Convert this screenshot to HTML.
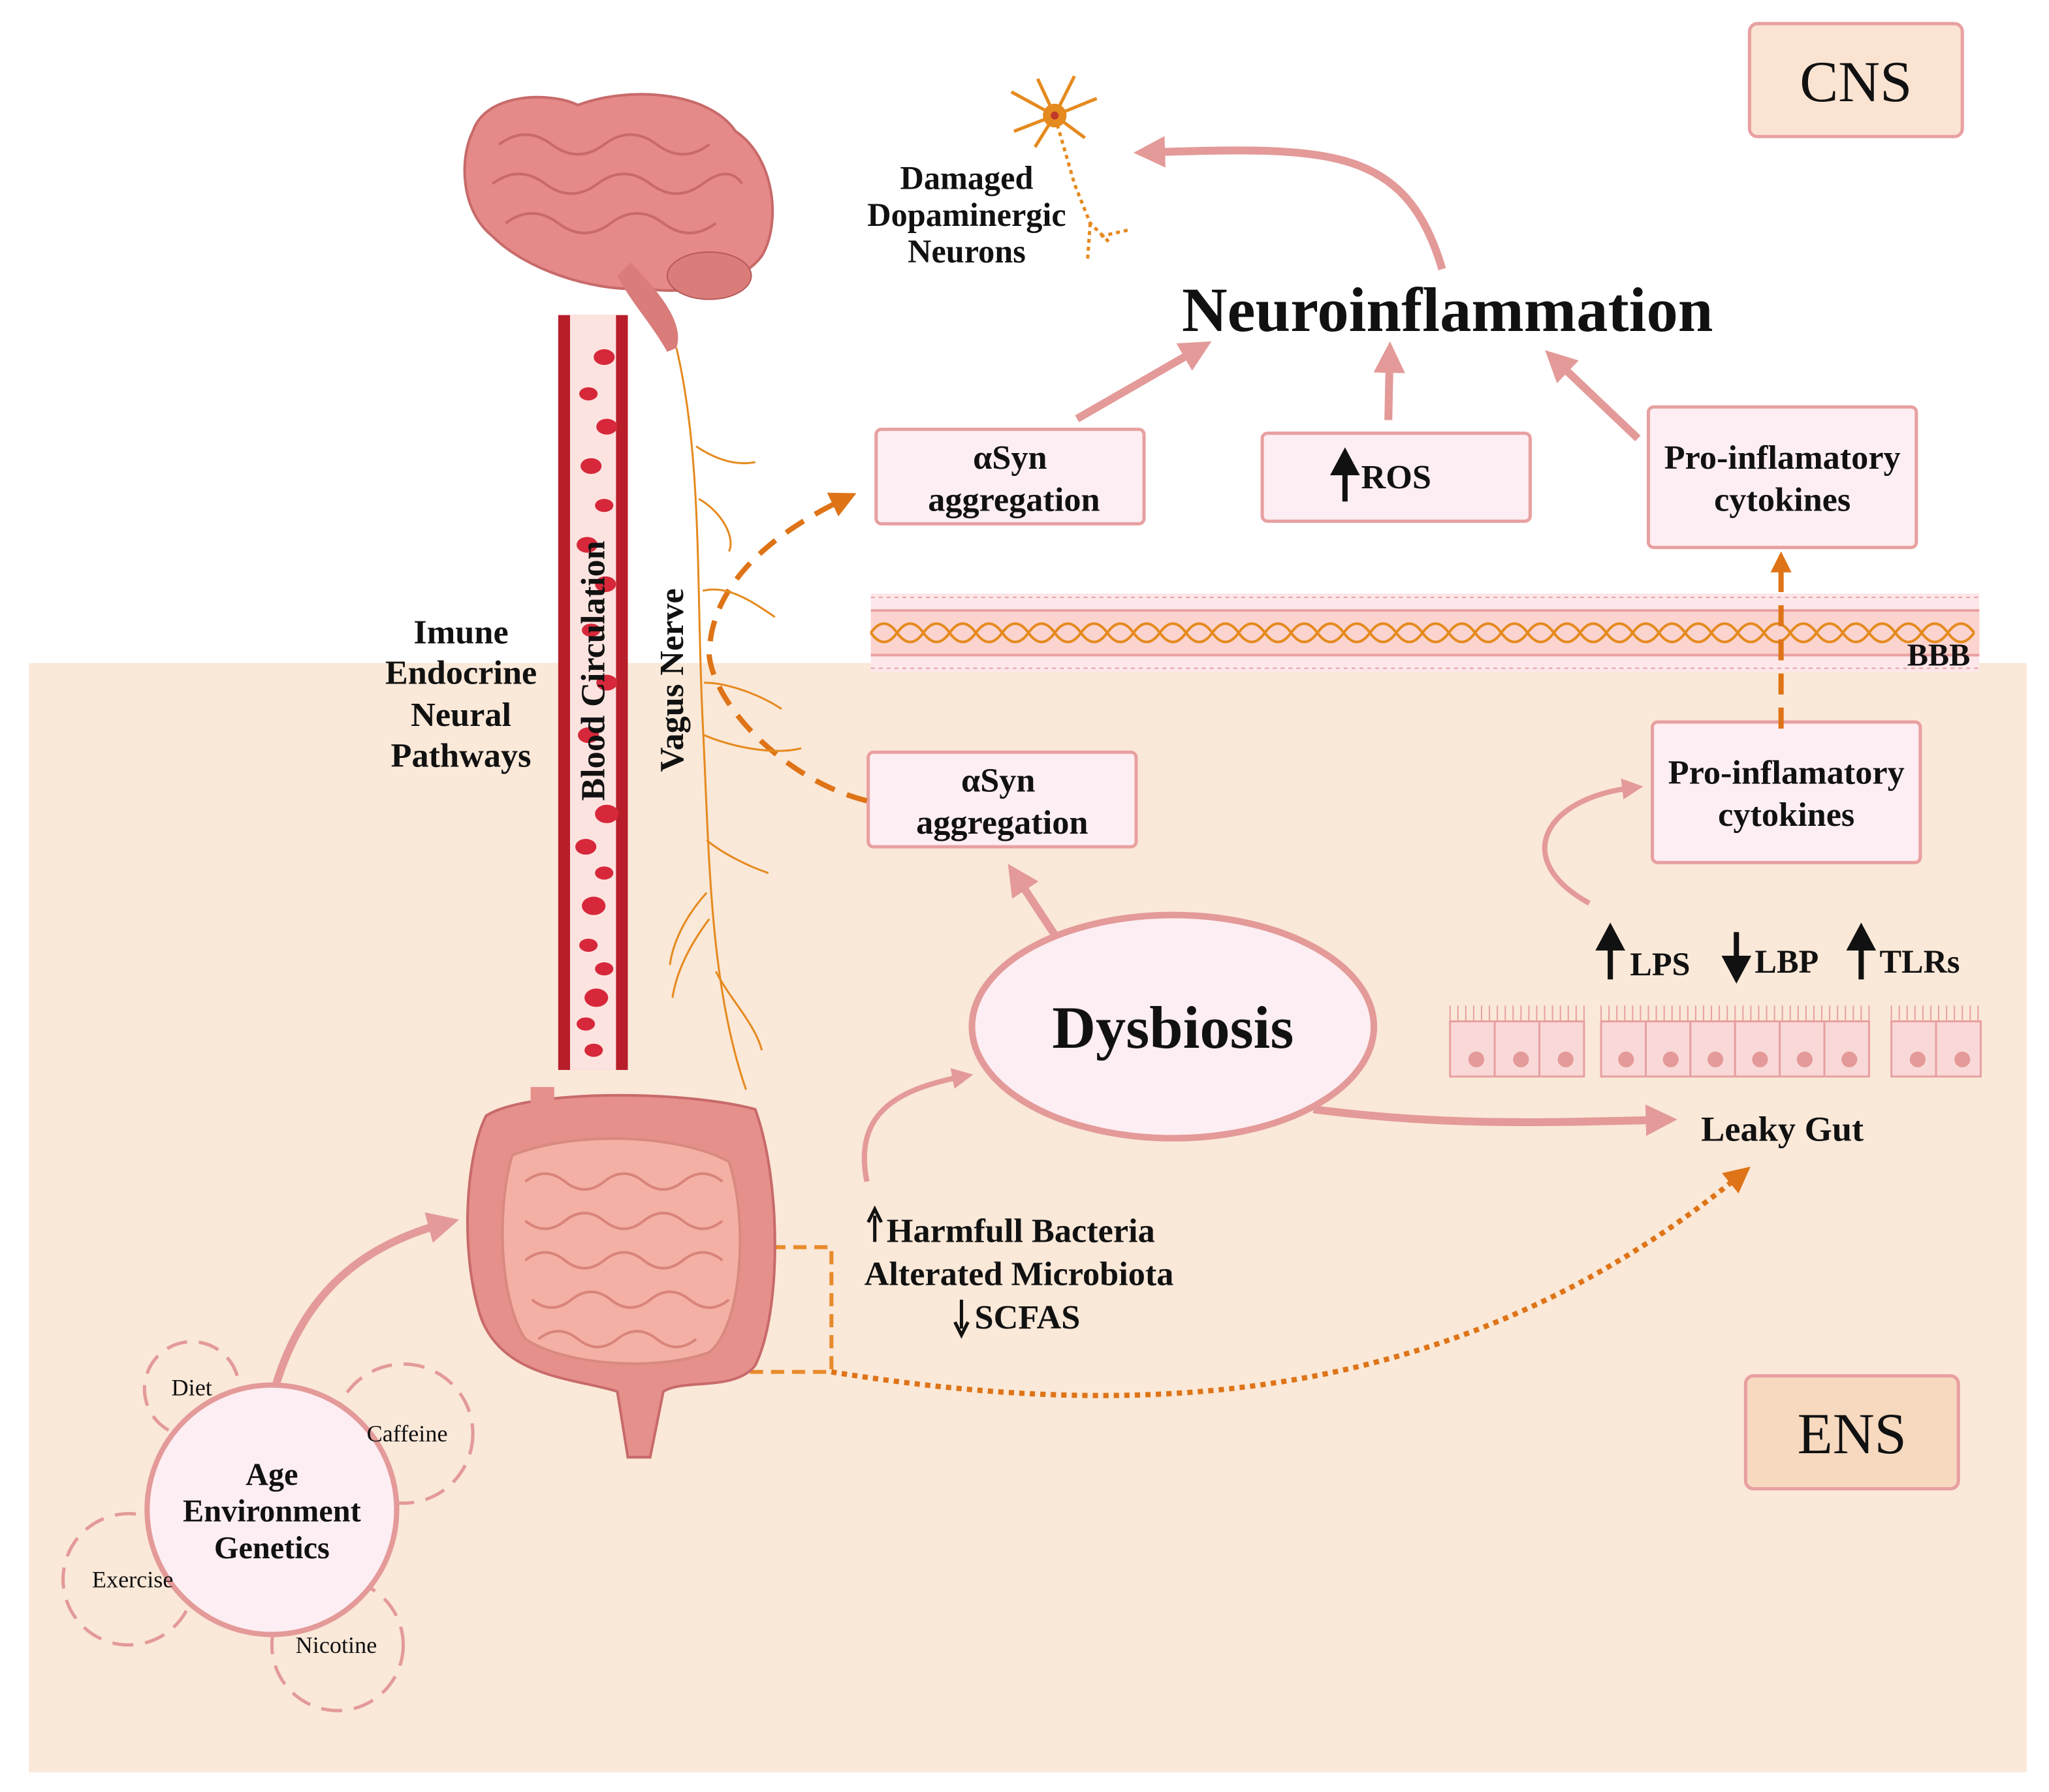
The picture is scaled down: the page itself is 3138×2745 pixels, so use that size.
<!DOCTYPE html>
<html><head><meta charset="utf-8"><style>
html,body{margin:0;padding:0;background:#fff}
svg{display:block}
text{font-family:"Liberation Serif",serif;fill:#111}
</style></head><body>
<svg width="3138" height="2745" viewBox="0 0 1560 1365" preserveAspectRatio="none" xmlns="http://www.w3.org/2000/svg">
<defs>
<marker id="pa" markerWidth="4" markerHeight="4" refX="2" refY="2" orient="auto" markerUnits="strokeWidth"><path d="M0,0 L4,2 L0,4 z" fill="#e39a98"/></marker>
<marker id="oa" markerWidth="4" markerHeight="4" refX="2" refY="2" orient="auto" markerUnits="strokeWidth"><path d="M0,0 L4,2 L0,4 z" fill="#de7417"/></marker>
<marker id="ob" markerWidth="5" markerHeight="5" refX="2.5" refY="2.5" orient="auto" markerUnits="strokeWidth"><path d="M0,0 L5,2.5 L0,5 z" fill="#de7417"/></marker>
</defs>
<rect width="1560" height="1365" fill="#fff"/>
<rect x="22" y="505" width="1521" height="845" fill="#fae8d8"/>

<rect x="1332" y="18" width="162" height="86" rx="6" fill="#fbe3d2" stroke="#e8a0a0" stroke-width="2.5"/>
<text x="1413" y="77" font-size="44" text-anchor="middle">CNS</text>
<rect x="1329" y="1048" width="162" height="86" rx="6" fill="#f7d9bf" stroke="#e8a0a0" stroke-width="2.5"/>
<text x="1410" y="1107" font-size="44" text-anchor="middle">ENS</text>

<rect x="663" y="452" width="844" height="60" fill="#fde7ea"/>
<rect x="663" y="465" width="844" height="34" fill="#fbd4cf"/>
<line x1="663" y1="465" x2="1507" y2="465" stroke="#e8a0a0" stroke-width="2"/>
<line x1="663" y1="499" x2="1507" y2="499" stroke="#e8a0a0" stroke-width="2"/>
<line x1="663" y1="455" x2="1507" y2="455" stroke="#e8a0a0" stroke-width="1" stroke-dasharray="3 3"/>
<line x1="663" y1="509" x2="1507" y2="509" stroke="#e8a0a0" stroke-width="1" stroke-dasharray="3 3"/>
<path d="M663,482 q10,-14 20,0 t20,0 t20,0 t20,0 t20,0 t20,0 t20,0 t20,0 t20,0 t20,0 t20,0 t20,0 t20,0 t20,0 t20,0 t20,0 t20,0 t20,0 t20,0 t20,0 t20,0 t20,0 t20,0 t20,0 t20,0 t20,0 t20,0 t20,0 t20,0 t20,0 t20,0 t20,0 t20,0 t20,0 t20,0 t20,0 t20,0 t20,0 t20,0 t20,0 t20,0 t20,0" fill="none" stroke="#e58a1f" stroke-width="2"/>
<path d="M663,482 q10,14 20,0 t20,0 t20,0 t20,0 t20,0 t20,0 t20,0 t20,0 t20,0 t20,0 t20,0 t20,0 t20,0 t20,0 t20,0 t20,0 t20,0 t20,0 t20,0 t20,0 t20,0 t20,0 t20,0 t20,0 t20,0 t20,0 t20,0 t20,0 t20,0 t20,0 t20,0 t20,0 t20,0 t20,0 t20,0 t20,0 t20,0 t20,0 t20,0 t20,0 t20,0 t20,0" fill="none" stroke="#e58a1f" stroke-width="2"/>
<text x="1500" y="507" font-size="24" font-weight="bold" text-anchor="end">BBB</text>

<text x="1102" y="252" font-size="48" font-weight="bold" text-anchor="middle">Neuroinflammation</text>

<g stroke="#e58a1f" stroke-width="2.5" fill="none">
<path d="M803,88 L770,70 M803,88 L790,60 M803,88 L818,58 M803,88 L835,75 M803,88 L772,100 M803,88 L788,112 M803,88 L826,105"/>
<path d="M805,95 L818,140 L830,170 L845,185 M830,170 L828,198 M838,180 L860,175" stroke-dasharray="3 3"/>
</g>
<circle cx="803" cy="88" r="9" fill="#e58a1f"/>
<circle cx="803" cy="88" r="3" fill="#c0392b"/>
<text x="736" y="144" font-size="25" font-weight="bold" text-anchor="middle">Damaged</text>
<text x="736" y="172" font-size="25" font-weight="bold" text-anchor="middle">Dopaminergic</text>
<text x="736" y="200" font-size="25" font-weight="bold" text-anchor="middle">Neurons</text>

<g stroke="#e39a98" stroke-width="6" fill="none">
<path d="M1098,205 C1070,110 1010,112 875,116" marker-end="url(#pa)"/>
<path d="M820,319 L912,266" marker-end="url(#pa)"/>
<path d="M1057,320 L1058,272" marker-end="url(#pa)"/>
<path d="M1247,334 L1185,275" marker-end="url(#pa)"/>
<path d="M803,712 L774,668" marker-end="url(#pa)"/>
<path d="M1000,845 C1100,858 1180,855 1265,853" marker-end="url(#pa)"/>
<path d="M660,900 C650,850 680,830 733,820" marker-end="url(#pa)" stroke-width="4"/>
<path d="M1210,688 C1150,655 1175,608 1243,600" marker-end="url(#pa)" stroke-width="4"/>
<path d="M210,1055 C230,990 270,950 338,932" marker-end="url(#pa)"/>
</g>

<g fill="#fdeef3" stroke="#e8a0a0" stroke-width="2.5">
<rect x="667" y="327" width="204" height="72" rx="4"/>
<rect x="961" y="330" width="204" height="67" rx="4"/>
<rect x="1255" y="310" width="204" height="107" rx="4"/>
<rect x="661" y="573" width="204" height="72" rx="4"/>
<rect x="1258" y="550" width="204" height="107" rx="4"/>
</g>
<g font-size="26" font-weight="bold" text-anchor="middle">
<text x="769" y="357">αSyn</text><text x="772" y="389">aggregation</text>
<text x="1063" y="372">ROS</text>
<text x="1357" y="357">Pro-inflamatory</text><text x="1357" y="389">cytokines</text>
<text x="760" y="603">αSyn</text><text x="763" y="635">aggregation</text>
<text x="1360" y="597">Pro-inflamatory</text><text x="1360" y="629">cytokines</text>
</g>
<path d="M1024,382 L1024,352 M1016,360 L1024,345 L1032,360 z" stroke="#111" stroke-width="4" fill="#111"/>

<g stroke="#de7417" stroke-width="4" fill="none" stroke-dasharray="16 10">
<path d="M660,610 C600,595 545,540 540,500 C540,450 580,410 643,380" marker-end="url(#ob)"/>
<path d="M1356,555 L1356,428" marker-end="url(#oa)"/>
</g>
<path d="M540,950 L633,950 L633,1045 L540,1045 Z" fill="none" stroke="#e88a2a" stroke-width="3" stroke-dasharray="10 6"/>
<path d="M633,1045 C850,1080 1100,1080 1325,895" fill="none" stroke="#de7417" stroke-width="4" stroke-dasharray="4 4" marker-end="url(#ob)"/>

<ellipse cx="893" cy="782" rx="153" ry="85" fill="#fdeef3" stroke="#e39a98" stroke-width="5"/>
<text x="893" y="798" font-size="46" font-weight="bold" text-anchor="middle">Dysbiosis</text>

<g fill="#f9d8d8" stroke="#e8a0a0" stroke-width="1.5">
<rect x="1104" y="778" width="34" height="42"/><rect x="1138" y="778" width="34" height="42"/><rect x="1172" y="778" width="34" height="42"/>
<rect x="1219" y="778" width="34" height="42"/><rect x="1253" y="778" width="34" height="42"/><rect x="1287" y="778" width="34" height="42"/><rect x="1321" y="778" width="34" height="42"/><rect x="1355" y="778" width="34" height="42"/><rect x="1389" y="778" width="34" height="42"/>
<rect x="1440" y="778" width="34" height="42"/><rect x="1474" y="778" width="34" height="42"/>
</g>
<g stroke="#e8a0a0" stroke-width="1">
<path d="M1104,766 v12 M1110,766 v12 M1116,766 v12 M1122,766 v12 M1128,766 v12 M1134,766 v12 M1140,766 v12 M1146,766 v12 M1152,766 v12 M1158,766 v12 M1164,766 v12 M1170,766 v12 M1176,766 v12 M1182,766 v12 M1188,766 v12 M1194,766 v12 M1200,766 v12 M1206,766 v12"/>
<path d="M1219,766 v12 M1225,766 v12 M1231,766 v12 M1237,766 v12 M1243,766 v12 M1249,766 v12 M1255,766 v12 M1261,766 v12 M1267,766 v12 M1273,766 v12 M1279,766 v12 M1285,766 v12 M1291,766 v12 M1297,766 v12 M1303,766 v12 M1309,766 v12 M1315,766 v12 M1321,766 v12 M1327,766 v12 M1333,766 v12 M1339,766 v12 M1345,766 v12 M1351,766 v12 M1357,766 v12 M1363,766 v12 M1369,766 v12 M1375,766 v12 M1381,766 v12 M1387,766 v12 M1393,766 v12 M1399,766 v12 M1405,766 v12 M1411,766 v12 M1417,766 v12 M1423,766 v12"/>
<path d="M1440,766 v12 M1446,766 v12 M1452,766 v12 M1458,766 v12 M1464,766 v12 M1470,766 v12 M1476,766 v12 M1482,766 v12 M1488,766 v12 M1494,766 v12 M1500,766 v12 M1506,766 v12"/>
</g>
<g fill="#e39a98">
<circle cx="1124" cy="807" r="6"/><circle cx="1158" cy="807" r="6"/><circle cx="1192" cy="807" r="6"/>
<circle cx="1238" cy="807" r="6"/><circle cx="1272" cy="807" r="6"/><circle cx="1306" cy="807" r="6"/><circle cx="1340" cy="807" r="6"/><circle cx="1374" cy="807" r="6"/><circle cx="1408" cy="807" r="6"/>
<circle cx="1460" cy="807" r="6"/><circle cx="1494" cy="807" r="6"/>
</g>
<g font-size="25" font-weight="bold">
<text x="1241" y="743">LPS</text><text x="1336" y="741">LBP</text><text x="1431" y="741">TLRs</text>
</g>
<g stroke="#111" stroke-width="4" fill="#111">
<path d="M1226,746 L1226,716 M1218,722 L1226,707 L1234,722 z"/>
<path d="M1322,710 L1322,736 M1314,730 L1322,745 L1330,730 z"/>
<path d="M1417,746 L1417,716 M1409,722 L1417,707 L1425,722 z"/>
</g>
<text x="1357" y="869" font-size="27" font-weight="bold" text-anchor="middle">Leaky Gut</text>

<g font-size="26" font-weight="bold">
<text x="675" y="946">Harmfull Bacteria</text>
<text x="658" y="979">Alterated Microbiota</text>
<text x="742" y="1012">SCFAS</text>
</g>
<path d="M666,946 L666,926 M661,931 L666,921 L671,931" stroke="#111" stroke-width="2.5" fill="none"/>
<path d="M732,990 L732,1012 M727,1007 L732,1017 L737,1007" stroke="#111" stroke-width="2.5" fill="none"/>

<g font-size="26" font-weight="bold" text-anchor="middle">
<text x="351" y="490">Imune</text><text x="351" y="521">Endocrine</text><text x="351" y="553">Neural</text><text x="351" y="584">Pathways</text>
</g>

<rect x="425" y="240" width="53" height="575" fill="#b81e2a"/>
<rect x="434" y="240" width="35" height="575" fill="#fde3e0"/>
<g fill="#d6283a">
<ellipse cx="460" cy="272" rx="8" ry="6"/><ellipse cx="448" cy="300" rx="7" ry="5"/><ellipse cx="462" cy="325" rx="8" ry="6"/><ellipse cx="450" cy="355" rx="8" ry="6"/><ellipse cx="460" cy="385" rx="7" ry="5"/><ellipse cx="447" cy="415" rx="8" ry="6"/><ellipse cx="461" cy="445" rx="8" ry="6"/><ellipse cx="450" cy="480" rx="7" ry="5"/><ellipse cx="462" cy="520" rx="8" ry="6"/><ellipse cx="448" cy="560" rx="8" ry="6"/><ellipse cx="462" cy="620" rx="9" ry="7"/><ellipse cx="446" cy="645" rx="8" ry="6"/><ellipse cx="460" cy="665" rx="7" ry="5"/><ellipse cx="452" cy="690" rx="9" ry="7"/><ellipse cx="448" cy="720" rx="7" ry="5"/><ellipse cx="460" cy="738" rx="7" ry="5"/><ellipse cx="454" cy="760" rx="9" ry="7"/><ellipse cx="446" cy="780" rx="7" ry="5"/><ellipse cx="452" cy="800" rx="7" ry="5"/>
</g>
<text transform="translate(460,610) rotate(-90)" font-size="26" font-weight="bold">Blood Circulation</text>
<text transform="translate(520,588) rotate(-90)" font-size="26" font-weight="bold">Vagus Nerve</text>

<g stroke="#e58a1f" stroke-width="1.5" fill="none">
<path d="M515,265 C535,350 530,450 535,550 C540,650 540,750 568,830"/>
<path d="M530,340 C545,350 560,355 575,352 M532,380 C550,390 560,410 555,420 M535,450 C555,445 575,460 590,470 M536,520 C555,520 580,530 595,540 M536,560 C560,570 590,575 610,570 M538,640 C550,650 570,660 585,665 M540,700 C525,720 515,740 512,760 M538,680 C520,700 512,720 510,735 M545,740 C555,760 575,780 580,800"/>
</g>

<path d="M360,100 C370,70 420,70 440,80 C480,65 540,70 560,100 C590,120 595,170 580,195 C565,215 530,225 490,220 C450,222 400,205 375,180 C350,160 350,120 360,100 Z" fill="#e58a88" stroke="#c86a6a" stroke-width="2"/>
<path d="M480,200 C510,230 520,250 515,265 L508,268 C495,245 480,230 470,210 Z" fill="#d97c7a"/>
<ellipse cx="540" cy="210" rx="32" ry="18" fill="#d97c7a" stroke="#b85a5a"/>
<g stroke="#c86a6a" stroke-width="2" fill="none">
<path d="M380,110 q20,-15 40,0 t40,0 t40,0 t40,0 M375,140 q20,-15 40,0 t40,0 t40,0 t40,0 t30,0 M385,170 q20,-15 40,0 t40,0 t40,0 t40,0"/>
</g>

<path d="M370,850 C400,830 520,830 575,845 C595,900 595,1000 575,1040 C560,1060 520,1050 505,1060 L495,1110 L478,1110 L470,1060 C440,1050 380,1050 365,1000 C350,950 355,880 370,850 Z" fill="#e6908c" stroke="#c86a6a" stroke-width="2"/>
<path d="M390,880 C440,860 520,865 555,885 C570,930 565,1010 540,1030 C500,1045 430,1040 400,1020 C380,990 378,920 390,880 Z" fill="#f4b0a4" stroke="#d98a80" stroke-width="2"/>
<g stroke="#d9847a" stroke-width="2" fill="none">
<path d="M400,900 q15,-12 30,0 t30,0 t30,0 t30,0 t30,0 M400,930 q15,12 30,0 t30,0 t30,0 t30,0 t30,0 M400,960 q15,-12 30,0 t30,0 t30,0 t30,0 t30,0 M405,990 q15,12 30,0 t30,0 t30,0 t30,0 t30,0 M410,1020 q15,-12 30,0 t30,0 t30,0 t30,0"/>
</g>
<rect x="404" y="828" width="18" height="22" fill="#e6908c"/>

<g fill="none" stroke="#e39a98" stroke-width="2.5" stroke-dasharray="16 9">
<circle cx="146" cy="1058" r="36"/>
<circle cx="307" cy="1092" r="53"/>
<circle cx="98" cy="1203" r="50"/>
<circle cx="257" cy="1253" r="50"/>
</g>
<circle cx="207" cy="1150" r="95" fill="#fdeef3" stroke="#e39a98" stroke-width="4"/>
<g font-size="18" text-anchor="middle">
<text x="146" y="1063">Diet</text><text x="310" y="1098">Caffeine</text><text x="101" y="1209">Exercise</text><text x="256" y="1259">Nicotine</text>
</g>
<g font-size="24" font-weight="bold" text-anchor="middle">
<text x="207" y="1131">Age</text><text x="207" y="1159">Environment</text><text x="207" y="1187">Genetics</text>
</g>
</svg>
</body></html>
